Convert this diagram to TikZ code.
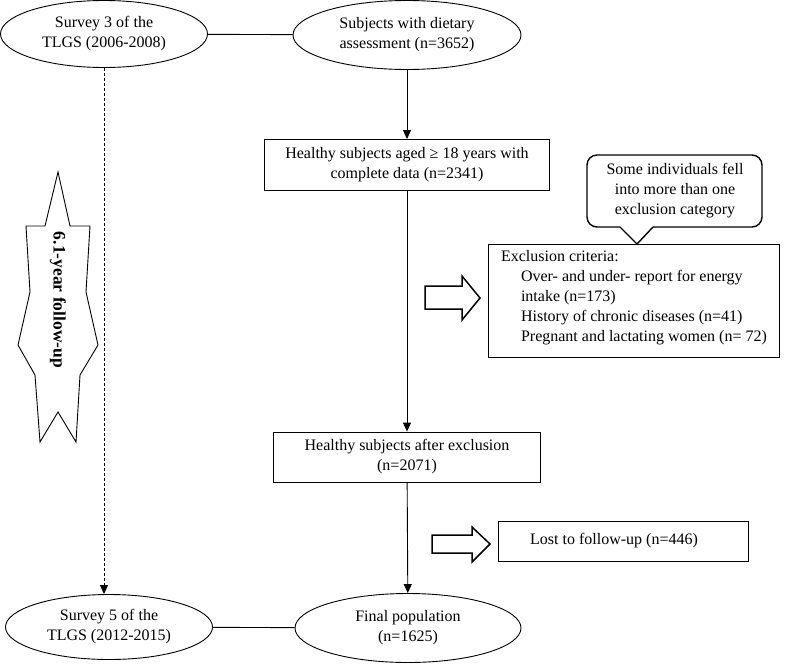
\documentclass[tikz,border=0pt]{standalone}
\usepackage{fontspec}
\setmainfont{Liberation Serif}
\usepackage{tikz}
\usetikzlibrary{shapes.geometric,arrows.meta}

\begin{document}
\begin{tikzpicture}[x=1pt, y=-1pt, line width=0.9pt, >={Triangle[length=9pt,width=8pt]},
        font=\fontsize{16}{20}\selectfont,
        oval/.style={ellipse, draw=black, align=center, inner sep=0pt},
        box/.style={rectangle, draw=black, align=center, inner sep=0pt},
        hollow/.style={draw=black, line width=1.5pt, line join=miter}]
        \useasboundingbox (0,0) rectangle (797,664);

        \node[oval, minimum width=207, minimum height=67] (s3) at (104,34) {Survey 3 of the\\TLGS (2006-2008)};
        \node[oval, minimum width=228, minimum height=69] (diet) at (407,35) {Subjects with dietary\\assessment (n=3652)};
        \node[box, minimum width=285, minimum height=51] (box1) at (407,165) {Healthy subjects aged ≥ 18 years with\\complete data (n=2341)};
        \node[box, anchor=north west, minimum width=291, minimum height=113, align=left] (box2) at (488,244)
            {Exclusion criteria:\\
             \hspace*{20pt}Over- and under- report for energy\\
             \hspace*{20pt}intake (n=173)\\
             \hspace*{20pt}History of chronic diseases (n=41)\\
             \hspace*{20pt}Pregnant and lactating women (n=~72)\\[-9pt]\mbox{}};
        \node[align=center] (note) at (675,191) {Some individuals fell\\into more than one\\exclusion category};
        \node[box, minimum width=267, minimum height=50] (box3) at (407,457) {Healthy subjects after exclusion\\(n=2071)};
        \node[draw=black, minimum width=250, minimum height=40, inner sep=0pt] (lost) at (623,541) {Lost to follow-up (n=446)\hspace*{18pt}};
        \node[oval, minimum width=207, minimum height=65] (s5) at (109,627) {Survey 5 of the\\TLGS (2012-2015)};
        \node[oval, minimum width=226, minimum height=69] (final) at (408,628) {Final population\\(n=1625)};

        % callout
        \draw[line width=1.4pt, rounded corners=10pt] (620,227) -- (587,227) -- (587,155) -- (762,155) -- (762,227) -- (653,227);
        \draw[line width=1.4pt] (620,227) -- (637,244) -- (653,227);

        % block arrows
        \draw[hollow] (425,286) -- (462,286) -- (462,276) -- (480,298) -- (462,320) -- (462,309) -- (425,309) -- cycle;
        \draw[hollow] (432,535) -- (472,535) -- (472,527) -- (490,544) -- (472,562) -- (472,553) -- (432,553) -- cycle;

        % follow-up banner
        \draw (58,172) -- (70,226) -- (90,226) -- (86,292) -- (98,345) -- (80,375) -- (76,442) -- (58,412)
              -- (40,442) -- (35,375) -- (18,345) -- (30,292) -- (26,226) -- (45,226) -- cycle;
        \node[rotate=-90, font=\fontsize{17.5}{20}\selectfont\bfseries] (fu) at (58,300) {6.1-year follow-up};

        \path (s3) edge (diet)
              (s5) edge (final);
        \path[->] (diet) edge (box1)
              (box1) edge (box3)
              (box3) edge (final);
        \path[->, dash pattern=on 3pt off 2pt] (s3.south) edge (s3.south |- s5.north);
\end{tikzpicture}
\end{document}
